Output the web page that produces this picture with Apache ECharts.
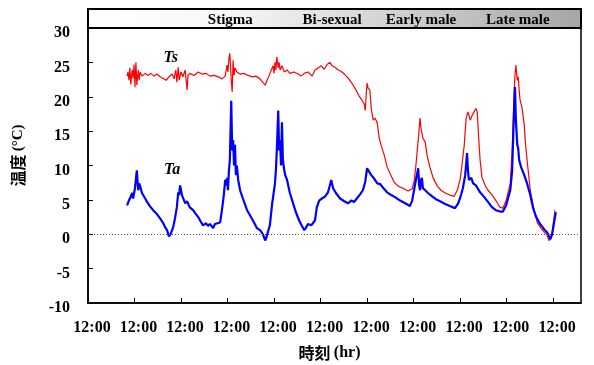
<!DOCTYPE html>
<html>
<head>
<meta charset="utf-8">
<script src="https://cdn.jsdelivr.net/npm/echarts@6/dist/echarts.min.js"></script>
<style>
  html, body { margin: 0; padding: 0; background: #fff; }
  #chart { width: 594px; height: 365px; }
</style>
</head>
<body>
<div id="chart"></div>
<script>
// x: days since the first 12:00 on the axis, y: temperature (°C)
const xTickLabels = ['12:00', '12:00', '12:00', '12:00', '12:00', '12:00', '12:00', '12:00', '12:00', '12:00', '12:00'];
const yMin = -10, yMax = 30, yStep = 5;

const phaseNames = ['Stigma', 'Bi-sexual', 'Early male', 'Late male'];
const phaseDays = [3.06, 5.25, 7.16, 9.24];

const seriesNames = ['Ts', 'Ta'];
const nameAt = [[1.78, 25.6], [1.81, 9.3]];

// Ts (red)
const tsDays = [
  0.84, 0.86, 0.88, 0.90, 0.92, 0.95, 0.97, 0.99, 1.01, 1.03, 1.05, 1.08, 1.10, 1.12, 1.16, 1.23, 1.29, 1.35, 1.42, 1.48,
  1.55, 1.61, 1.68, 1.74, 1.81, 1.85, 1.89, 1.91, 1.94, 1.96, 2.00, 2.04, 2.09, 2.13, 2.15, 2.19, 2.28, 2.37, 2.45, 2.54,
  2.62, 2.71, 2.80, 2.88, 2.95, 2.99, 3.01, 3.03, 3.05, 3.08, 3.10, 3.12, 3.14, 3.16, 3.20, 3.27, 3.35, 3.44, 3.53, 3.61,
  3.70, 3.76, 3.81, 3.85, 3.89, 3.94, 3.98, 4.00, 4.02, 4.04, 4.06, 4.09, 4.11, 4.13, 4.17, 4.22, 4.28, 4.34, 4.43, 4.52,
  4.58, 4.65, 4.73, 4.82, 4.88, 4.95, 5.01, 5.08, 5.14, 5.20, 5.25, 5.31, 5.38, 5.44, 5.51, 5.57, 5.63, 5.70, 5.76, 5.83,
  5.89, 5.94, 5.96, 5.98, 6.00, 6.02, 6.06, 6.09, 6.13, 6.17, 6.22, 6.26, 6.30, 6.37, 6.43, 6.49, 6.58, 6.67, 6.77, 6.88,
  6.97, 7.01, 7.05, 7.10, 7.14, 7.16, 7.20, 7.25, 7.29, 7.35, 7.42, 7.51, 7.59, 7.68, 7.78, 7.87, 7.94, 8.00, 8.04, 8.09,
  8.13, 8.17, 8.22, 8.26, 8.30, 8.34, 8.37, 8.39, 8.43, 8.47, 8.54, 8.60, 8.69, 8.77, 8.86, 8.92, 8.99, 9.03, 9.08, 9.12,
  9.14, 9.16, 9.18, 9.20, 9.23, 9.25, 9.27, 9.29, 9.33, 9.38, 9.40, 9.44, 9.51, 9.57, 9.66, 9.74, 9.81, 9.87, 9.91, 9.96,
  10.00, 10.04
];
const tsTemp = [
  23.0, 23.6, 22.4, 24.2, 21.8, 23.9, 22.7, 24.7, 21.4, 25.0, 21.7, 23.9, 22.4, 23.6, 23.0, 23.4, 23.1, 23.4, 23.0, 23.3,
  22.9, 22.7, 22.4, 22.9, 23.3, 22.6, 23.9, 22.1, 24.3, 22.4, 23.6, 22.9, 23.9, 21.0, 23.1, 23.4, 23.1, 23.6, 23.3, 23.4,
  23.0, 23.1, 22.9, 22.6, 23.0, 24.6, 23.6, 25.6, 26.3, 22.4, 20.7, 25.3, 23.1, 24.2, 23.6, 23.3, 23.4, 23.1, 22.9, 23.0,
  22.6, 22.1, 21.7, 22.4, 23.0, 23.9, 24.5, 23.4, 25.0, 23.9, 25.8, 24.2, 25.0, 23.9, 24.5, 23.6, 23.9, 23.4, 23.6, 23.3,
  23.0, 23.4, 23.6, 23.0, 23.9, 24.2, 24.5, 24.0, 24.7, 25.0, 24.5, 24.3, 23.9, 23.7, 23.3, 22.9, 22.4, 21.7, 21.0, 20.1,
  19.5, 18.9, 18.0, 20.1, 22.0, 21.3, 21.0, 18.3, 16.6, 16.9, 16.2, 14.0, 13.0, 11.5, 9.8, 8.9, 7.6, 7.0, 6.7, 6.3,
  6.6, 7.6, 10.0, 13.7, 16.9, 15.4, 14.0, 13.4, 11.5, 9.8, 8.2, 7.0, 6.4, 6.0, 5.7, 5.5, 6.4, 7.9, 10.0, 13.0,
  16.9, 17.8, 16.6, 17.3, 17.8, 18.3, 17.8, 15.1, 10.8, 8.3, 7.1, 6.4, 5.7, 4.9, 3.9, 3.8, 4.9, 6.0, 7.4, 12.2,
  15.9, 20.2, 23.1, 24.6, 22.4, 22.9, 21.0, 19.5, 18.5, 15.9, 13.7, 10.8, 6.4, 4.2, 1.7, 0.9, 0.3, -0.1, -0.9, -0.6,
  1.3, 3.5
];

// Ta (blue)
const taDays = [
  0.84, 0.88, 0.92, 0.95, 0.97, 1.01, 1.05, 1.08, 1.10, 1.12, 1.16, 1.23, 1.27, 1.33, 1.40, 1.46, 1.55, 1.61, 1.66, 1.70,
  1.74, 1.78, 1.83, 1.87, 1.91, 1.94, 1.96, 1.98, 2.00, 2.02, 2.06, 2.09, 2.13, 2.19, 2.26, 2.30, 2.37, 2.41, 2.47, 2.54,
  2.58, 2.62, 2.69, 2.73, 2.77, 2.84, 2.88, 2.92, 2.95, 2.97, 2.99, 3.01, 3.03, 3.05, 3.08, 3.10, 3.12, 3.14, 3.16, 3.18,
  3.20, 3.23, 3.27, 3.33, 3.42, 3.48, 3.57, 3.63, 3.70, 3.76, 3.81, 3.83, 3.87, 3.91, 3.96, 4.00, 4.02, 4.04, 4.06, 4.09,
  4.11, 4.13, 4.15, 4.17, 4.19, 4.22, 4.24, 4.28, 4.34, 4.41, 4.47, 4.54, 4.60, 4.65, 4.69, 4.73, 4.80, 4.84, 4.88, 4.92,
  4.97, 5.03, 5.10, 5.16, 5.20, 5.23, 5.27, 5.33, 5.42, 5.51, 5.59, 5.66, 5.72, 5.78, 5.85, 5.91, 5.96, 6.00, 6.04, 6.09,
  6.13, 6.17, 6.22, 6.28, 6.34, 6.43, 6.52, 6.60, 6.71, 6.82, 6.92, 6.97, 7.01, 7.05, 7.10, 7.12, 7.14, 7.16, 7.18, 7.20,
  7.25, 7.31, 7.40, 7.48, 7.57, 7.68, 7.78, 7.89, 7.96, 8.02, 8.06, 8.11, 8.15, 8.17, 8.19, 8.24, 8.28, 8.34, 8.43, 8.52,
  8.60, 8.69, 8.77, 8.86, 8.92, 8.99, 9.03, 9.08, 9.12, 9.14, 9.16, 9.18, 9.20, 9.23, 9.25, 9.27, 9.31, 9.38, 9.44, 9.51,
  9.57, 9.63, 9.72, 9.81, 9.87, 9.94, 9.98, 10.02, 10.06
];
const taTemp = [
  4.2, 4.9, 5.5, 6.0, 5.2, 6.7, 9.3, 6.4, 7.4, 7.0, 6.0, 5.2, 4.7, 4.1, 3.5, 3.1, 2.3, 1.7, 1.0, 0.6,
  -0.3, 0.1, 1.0, 2.3, 3.9, 6.1, 5.7, 7.1, 6.4, 5.7, 5.5, 4.5, 4.8, 3.9, 3.5, 3.1, 2.5, 2.0, 1.3, 1.6,
  1.2, 1.5, 0.9, 1.5, 1.6, 1.7, 3.5, 5.7, 7.9, 7.1, 8.2, 6.4, 9.3, 10.8, 19.4, 12.2, 13.7, 10.0, 13.0, 8.6,
  10.0, 7.9, 6.4, 5.2, 3.5, 2.8, 1.7, 0.9, 0.6, 0.0, -0.9, -0.6, -0.4, 1.3, 4.5, 6.4, 7.4, 9.3, 12.2, 18.0,
  12.2, 13.7, 10.0, 16.3, 10.8, 9.3, 8.6, 7.9, 6.0, 4.5, 3.2, 2.0, 1.2, 0.6, 1.0, 1.5, 1.3, 1.5, 2.0, 3.9,
  4.9, 5.2, 5.5, 6.1, 7.1, 7.9, 6.7, 6.0, 5.2, 4.8, 4.5, 4.9, 4.7, 5.2, 5.8, 6.4, 7.6, 9.6, 9.8, 8.6,
  8.3, 8.2, 7.4, 7.3, 6.8, 6.1, 5.7, 5.4, 4.9, 4.5, 4.1, 4.9, 6.4, 7.9, 9.6, 7.1, 6.4, 7.9, 8.2, 6.7,
  6.4, 6.0, 5.5, 5.1, 4.8, 4.4, 4.1, 3.8, 4.5, 5.7, 6.7, 8.6, 11.8, 9.3, 7.9, 8.2, 7.4, 7.1, 6.1, 5.4,
  4.7, 3.9, 3.5, 3.3, 3.3, 4.2, 5.2, 6.4, 9.3, 13.7, 18.0, 21.4, 16.6, 13.0, 12.5, 10.8, 9.8, 8.6, 7.4, 5.7,
  3.8, 2.6, 1.5, 0.7, 0.3, -0.7, 0.0, 1.7, 3.2
];

const serif = 'Liberation Serif, Times New Roman, serif';
const cjk = 'Noto Sans CJK JP, sans-serif';

const zip = (xs, ys) => xs.map((x, i) => [x, ys[i]]);

const chart = echarts.init(document.getElementById('chart'));

// series name written next to its line
const nameMark = (i) => ({
    symbol: 'circle',
    symbolSize: 1,
    silent: true,
    itemStyle: { color: 'rgba(0,0,0,0)' },
    data: [{ coord: nameAt[i] }],
    label: {
        show: true,
        position: 'inside',
        formatter: seriesNames[i],
        color: '#000',
        fontFamily: serif,
        fontStyle: 'italic',
        fontWeight: 'bold',
        fontSize: 16,
    },
});

const option = {
    animation: false,
    backgroundColor: '#fff',
    grid: {
        left: 88,
        right: 13,
        top: 28,
        bottom: 62,
        show: true,
        borderColor: '#000',
        borderWidth: 1.5,
        outerBoundsMode: 'none',
    },
    xAxis: {
        type: 'value',
        min: 0,
        max: 10.6,
        interval: 1,
        name: '{c|時刻} {r|(hr)}',
        nameLocation: 'middle',
        nameGap: 42,
        nameTextStyle: {
            padding: [0, 10, 0, 0],
            rich: {
                c: { fontFamily: cjk, fontWeight: 'bold', fontSize: 16, color: '#000' },
                r: { fontFamily: serif, fontWeight: 'bold', fontSize: 16, color: '#000' },
            },
        },
        axisLine: { onZero: false, lineStyle: { color: '#000', width: 1.5 } },
        axisTick: { inside: true, length: 5, lineStyle: { color: '#000' } },
        splitLine: { show: false },
        axisLabel: {
            margin: 17,
            showMaxLabel: false,
            padding: [0, 0, 0, 8],
            color: '#000',
            fontFamily: serif,
            fontWeight: 'bold',
            fontSize: 16,
            formatter: (v) => (Number.isInteger(v) ? xTickLabels[v] : ''),
        },
    },
    yAxis: {
        type: 'value',
        min: yMin,
        max: yMax,
        interval: yStep,
        name: '{c|温度} {r|(°C)}',
        nameLocation: 'middle',
        nameGap: 62,
        nameTextStyle: {
            padding: [0, 0, 0, 20],
            rich: {
                c: { fontFamily: cjk, fontWeight: 'bold', fontSize: 16, color: '#000' },
                r: { fontFamily: serif, fontWeight: 'bold', fontSize: 15, color: '#000' },
            },
        },
        axisLine: { lineStyle: { color: '#000', width: 1.5 } },
        axisTick: { inside: true, length: 5, lineStyle: { color: '#000' } },
        splitLine: { show: false },
        axisLabel: {
            margin: 18,
            verticalAlign: 'top',
            lineHeight: 10,
            color: '#000',
            fontFamily: serif,
            fontWeight: 'bold',
            fontSize: 16,
        },
    },
    series: [
        {
            name: seriesNames[0],
            type: 'line',
            data: zip(tsDays, tsTemp),
            showSymbol: false,
            lineStyle: { color: '#ff0000', width: 1.2 },
            markPoint: nameMark(0),
            z: 2,
        },
        {
            name: seriesNames[1],
            type: 'line',
            data: zip(taDays, taTemp),
            showSymbol: false,
            lineStyle: { color: '#0000ff', width: 2.2 },
            markPoint: nameMark(1),
            markLine: {
                silent: true,
                symbol: ['none', 'none'],
                label: { show: false },
                lineStyle: { type: [1, 2], color: '#555', width: 1 },
                data: [{ yAxis: 0 }],
            },
            z: 3,
        },
    ],
};

chart.setOption(option);

// phase band above the plot
const bandTexts = phaseNames.map((name, i) => ({
    type: 'text',
    x: chart.convertToPixel({ xAxisIndex: 0 }, phaseDays[i]),
    y: 20,
    style: {
        text: name,
        fill: '#000',
        font: 'bold 15px ' + serif,
        textAlign: 'center',
        textVerticalAlign: 'middle',
    },
    z: 10,
}));

chart.setOption({
    graphic: [
        {
            type: 'rect',
            shape: { x: 88, y: 9, width: 493, height: 19 },
            style: {
                fill: new echarts.graphic.LinearGradient(0, 0, 1, 0, [
                    { offset: 0, color: '#ffffff' },
                    { offset: 0.3, color: '#f6f6f6' },
                    { offset: 1, color: '#a6a6a6' },
                ]),
                stroke: '#000',
                lineWidth: 2,
            },
            z: 5,
        },
        ...bandTexts,
    ],
});
</script>
</body>
</html>
